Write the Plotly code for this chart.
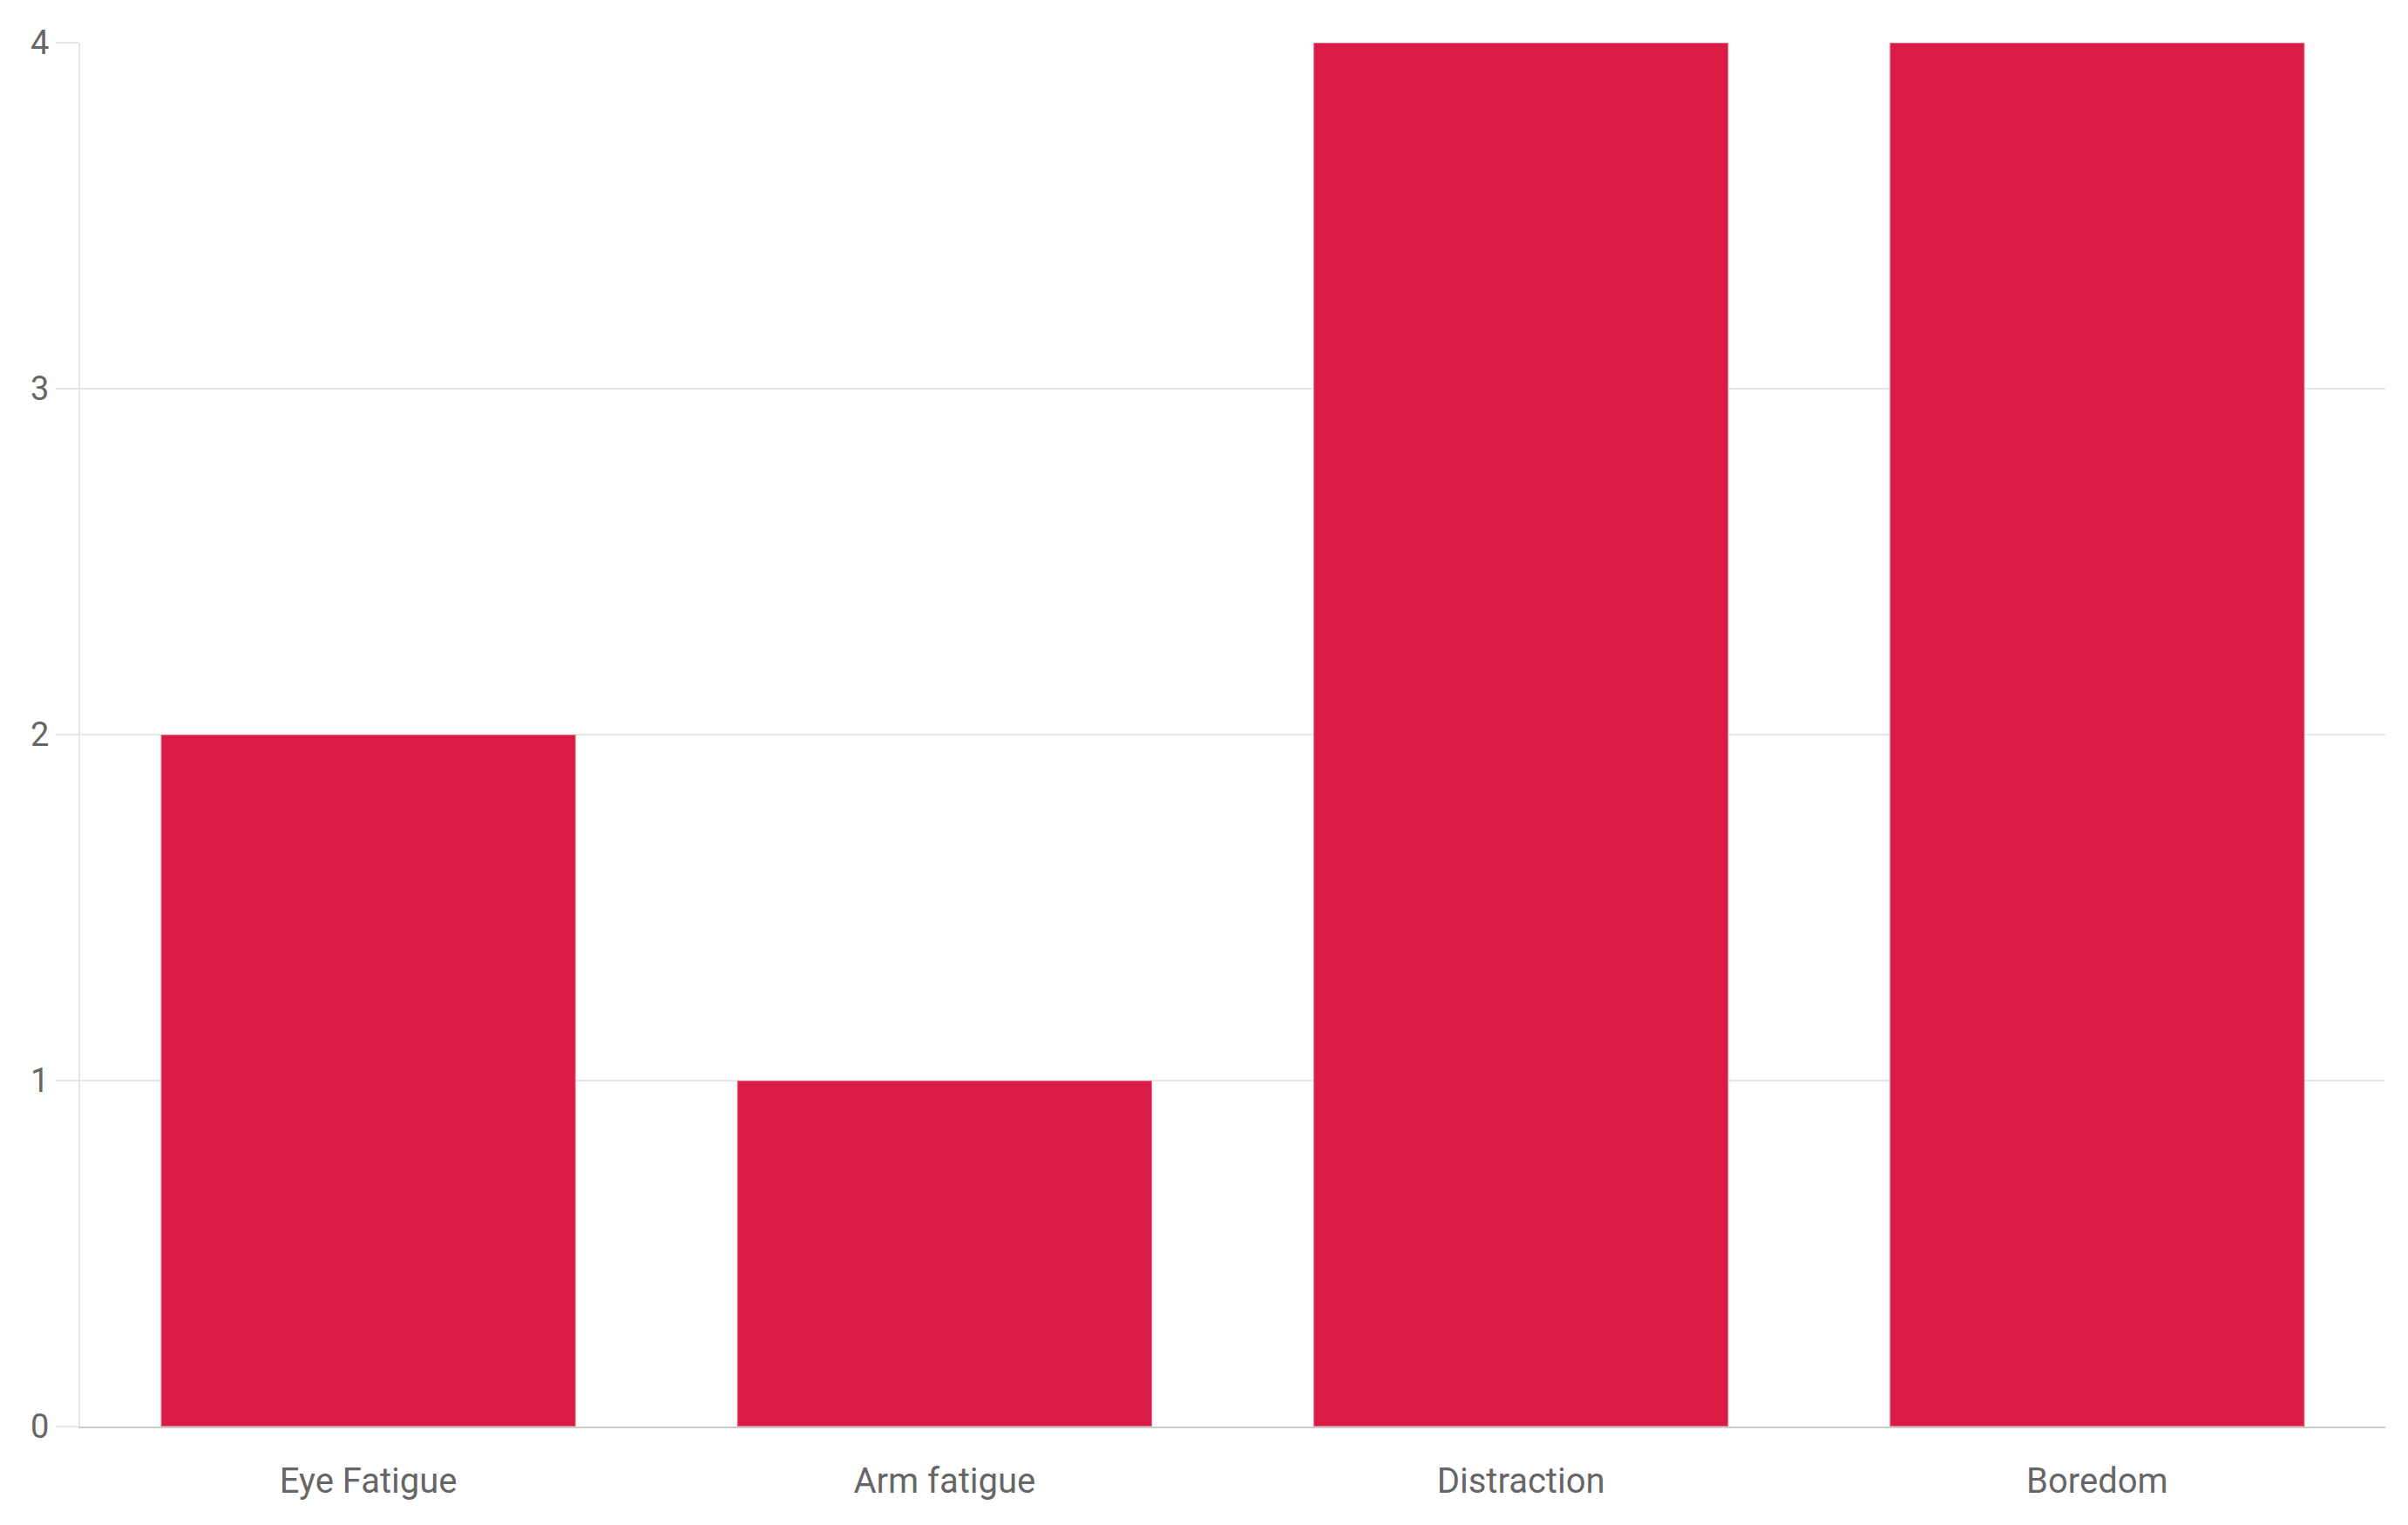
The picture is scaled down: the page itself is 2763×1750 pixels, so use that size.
import plotly.graph_objects as go

# Reported sources of discomfort and how many participants mentioned each
categories = ["Eye Fatigue", "Arm fatigue", "Distraction", "Boredom"]
counts = [2, 1, 4, 4]
y_ticks = [0, 1, 2, 3, 4]

BAR_COLOR = "#D81C44"
GRID_COLOR = "#E6E6E6"
TEXT_COLOR = "#666666"
FONT = "Roboto, 'Noto Sans', sans-serif"

fig = go.Figure(
    go.Bar(
        x=categories,
        y=counts,
        marker=dict(color=BAR_COLOR, line=dict(color="rgba(255,255,255,0.35)", width=2)),
        hoverinfo="x+y",
    )
)

fig.update_layout(
    width=2763,
    height=1750,
    margin=dict(l=92, r=26, t=49, b=113),
    paper_bgcolor="white",
    plot_bgcolor="white",
    bargap=0.28,
    showlegend=False,
    font=dict(family=FONT, color=TEXT_COLOR),
)

fig.update_xaxes(
    showgrid=False,
    showline=True,
    linecolor="#CCCCCC",
    linewidth=2,
    ticks="",
    tickfont=dict(size=40, color=TEXT_COLOR, family=FONT),
    ticklabelstandoff=26,
)

fig.update_yaxes(
    range=[0, 4],
    tickvals=y_ticks,
    showgrid=True,
    gridcolor=GRID_COLOR,
    gridwidth=2,
    zeroline=False,
    showline=True,
    linecolor=GRID_COLOR,
    linewidth=2,
    ticks="outside",
    ticklen=26,
    tickwidth=2,
    tickcolor=GRID_COLOR,
    tickfont=dict(size=38, color=TEXT_COLOR, family=FONT),
)

fig.write_html("out.html")
